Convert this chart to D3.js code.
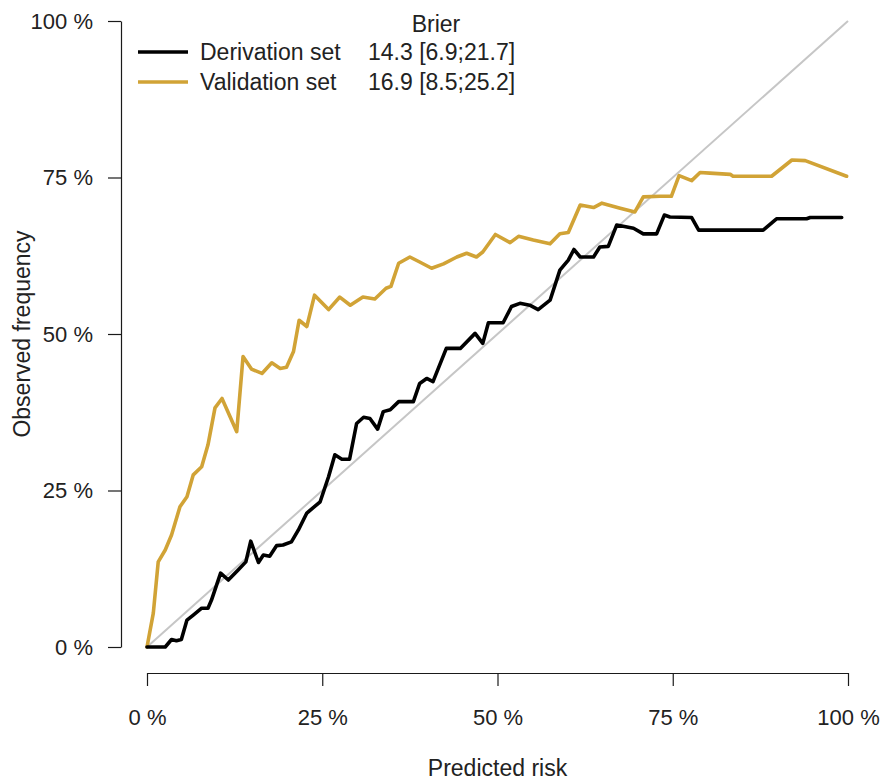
<!DOCTYPE html>
<html>
<head>
<meta charset="utf-8">
<script src="https://cdn.jsdelivr.net/npm/d3@7"></script>
<style>
  html, body { margin: 0; padding: 0; background: #fff; }
  svg { display: block; font-family: "Liberation Sans", Arial, sans-serif; }
</style>
</head>
<body>
<svg id="chart" width="880" height="780"></svg>
<script>
// Calibration curves: predicted risk (%) vs observed frequency (%)
const derivationRisk = [0, 2.6, 3.5, 4.2, 4.9, 5.7, 6.6, 7.8, 8.7, 9.2, 10.5, 11.6, 13.0, 14.1, 14.8, 15.9, 16.6, 17.5, 18.5, 19.4, 20.6, 21.6, 22.8, 24.7, 25.9, 26.8, 27.8, 28.9, 29.9, 30.9, 31.8, 32.9, 33.7, 34.7, 35.9, 38.0, 38.9, 39.9, 40.8, 42.7, 44.7, 46.8, 47.9, 48.7, 50.8, 52.0, 53.2, 54.6, 55.8, 57.5, 58.9, 60.1, 60.9, 61.8, 63.7, 64.6, 65.8, 67.0, 69.4, 70.8, 72.7, 73.8, 74.6, 77.7, 78.7, 87.9, 89.8, 94.1, 94.6, 99.1];
const derivationObserved = [0, 0, 1.2, 1.0, 1.2, 4.3, 5.1, 6.2, 6.2, 7.5, 11.8, 10.7, 12.3, 13.6, 16.9, 13.5, 14.7, 14.5, 16.2, 16.3, 16.8, 18.7, 21.4, 23.2, 27.2, 30.7, 30.0, 30.0, 35.7, 36.7, 36.5, 34.8, 37.6, 37.9, 39.2, 39.2, 42.1, 42.9, 42.4, 47.7, 47.7, 50.1, 48.5, 51.8, 51.8, 54.4, 54.9, 54.6, 53.9, 55.4, 60.2, 61.8, 63.5, 62.3, 62.3, 63.9, 64.0, 67.4, 66.9, 66.0, 66.0, 69.0, 68.7, 68.6, 66.6, 66.6, 68.4, 68.4, 68.6, 68.6];

const validationRisk = [0, 0.9, 1.6, 2.6, 3.5, 4.7, 5.7, 6.6, 7.8, 8.7, 9.7, 10.7, 12.8, 13.7, 14.9, 16.4, 17.8, 19.0, 19.9, 20.9, 21.7, 22.8, 23.9, 25.9, 27.5, 29.0, 30.8, 32.5, 34.1, 34.8, 35.9, 37.5, 38.9, 40.6, 42.3, 44.2, 45.6, 47.0, 47.9, 49.7, 51.8, 53.0, 55.1, 57.5, 58.9, 60.1, 61.8, 63.7, 64.9, 67.5, 69.6, 70.8, 73.2, 74.8, 75.9, 77.7, 78.9, 80.3, 83.2, 83.6, 89.1, 92.0, 93.9, 99.8];
const validationObserved = [0, 5.4, 13.6, 15.5, 17.9, 22.4, 24.0, 27.5, 28.8, 32.3, 38.2, 39.7, 34.4, 46.4, 44.4, 43.7, 45.4, 44.5, 44.7, 47.2, 52.2, 51.2, 56.2, 53.9, 55.9, 54.6, 55.9, 55.6, 57.3, 57.6, 61.3, 62.3, 61.5, 60.5, 61.2, 62.3, 62.9, 62.3, 63.1, 65.9, 64.6, 65.6, 65.0, 64.4, 66.0, 66.2, 70.6, 70.2, 70.9, 70.1, 69.5, 71.9, 72.0, 72.0, 75.3, 74.5, 75.8, 75.7, 75.5, 75.2, 75.2, 77.8, 77.7, 75.2];

const tickValues = [0, 25, 50, 75, 100];
const seriesNames = ["Derivation set", "Validation set"];
const brierScores = ["14.3 [6.9;21.7]", "16.9 [8.5;25.2]"];
const brierTitle = "Brier";
const xTitle = "Predicted risk";
const yTitle = "Observed frequency";

const colors = { derivation: "#000000", validation: "#D1A336", diagonal: "#C6C6C6", axis: "#1a1a1a", text: "#222" };

const svg = d3.select("#chart");
const tickFont = 22;
const textFont = 23;

const x = d3.scaleLinear().domain([0, 100]).range([147, 848]);
const y = d3.scaleLinear().domain([0, 100]).range([647, 21]);

const pct = d => `${d} %`;

// Axes (offset from the plotting region, R style)
const xAxis = svg.append("g")
  .attr("transform", "translate(0,673)")
  .call(d3.axisBottom(x).tickValues(tickValues).tickFormat(pct).tickSize(13).tickSizeOuter(0).tickPadding(23));
const yAxis = svg.append("g")
  .attr("transform", "translate(121,0)")
  .call(d3.axisLeft(y).tickValues(tickValues).tickFormat(pct).tickSize(13).tickSizeOuter(0).tickPadding(15));

[xAxis, yAxis].forEach(g => {
  g.selectAll("path.domain").attr("stroke", colors.axis).attr("stroke-width", 1.2);
  g.selectAll(".tick line").attr("stroke", colors.axis).attr("stroke-width", 1.2);
  g.selectAll(".tick text").attr("fill", colors.text).style("font-size", tickFont + "px")
    .style("font-family", '"Liberation Sans", Arial, sans-serif');
});

// Axis titles
svg.append("text")
  .attr("x", x(50)).attr("y", 776)
  .attr("text-anchor", "middle").attr("fill", colors.text)
  .style("font-size", textFont + "px")
  .text(xTitle);
svg.append("text")
  .attr("transform", `translate(30,${y(50)}) rotate(-90)`)
  .attr("text-anchor", "middle").attr("fill", colors.text)
  .style("font-size", textFont + "px")
  .text(yTitle);

// Reference diagonal (perfect calibration)
svg.append("line")
  .attr("x1", x(0)).attr("y1", y(0))
  .attr("x2", x(100)).attr("y2", y(100))
  .attr("stroke", colors.diagonal).attr("stroke-width", 2);

const line = d3.line().x(d => x(d[0])).y(d => y(d[1]));

const derivation = d3.zip(derivationRisk, derivationObserved);
const validation = d3.zip(validationRisk, validationObserved);

svg.append("path").datum(validation)
  .attr("d", line).attr("fill", "none")
  .attr("stroke", colors.validation).attr("stroke-width", 3.6)
  .attr("stroke-linejoin", "round").attr("stroke-linecap", "round");

svg.append("path").datum(derivation)
  .attr("d", line).attr("fill", "none")
  .attr("stroke", colors.derivation).attr("stroke-width", 3.6)
  .attr("stroke-linejoin", "round").attr("stroke-linecap", "round");

// Legend with Brier scores
const legend = svg.append("g");
legend.append("text")
  .attr("x", 436).attr("y", 32)
  .attr("text-anchor", "middle").attr("fill", colors.text)
  .style("font-size", textFont + "px")
  .text(brierTitle);

const legendRows = [
  { name: seriesNames[0], score: brierScores[0], color: colors.derivation, cy: 52 },
  { name: seriesNames[1], score: brierScores[1], color: colors.validation, cy: 82 }
];
legendRows.forEach(r => {
  legend.append("line")
    .attr("x1", 138).attr("x2", 188).attr("y1", r.cy).attr("y2", r.cy)
    .attr("stroke", r.color).attr("stroke-width", 3.6);
  legend.append("text")
    .attr("x", 200).attr("y", r.cy + 8)
    .attr("fill", colors.text).style("font-size", textFont + "px")
    .text(r.name);
  legend.append("text")
    .attr("x", 368).attr("y", r.cy + 8)
    .attr("fill", colors.text).style("font-size", textFont + "px")
    .text(r.score);
});
</script>
</body>
</html>
